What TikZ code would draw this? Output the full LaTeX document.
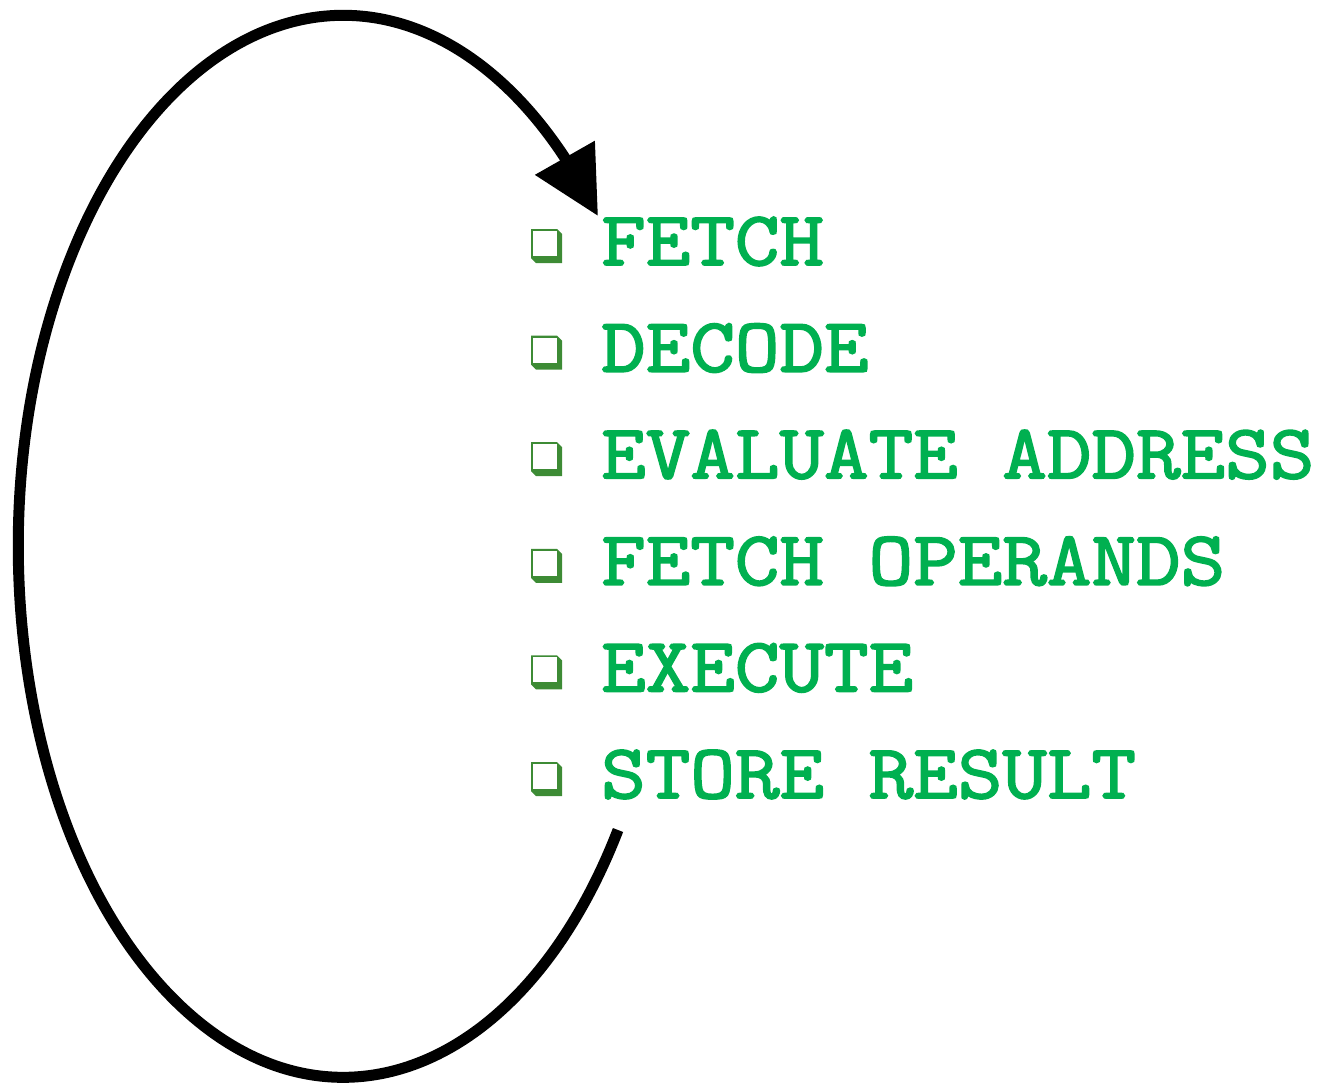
\documentclass[tikz,border=0pt]{standalone}
\usepackage{fontspec}
\usetikzlibrary{arrows.meta}
\newfontfamily\courfont[FakeBold=2.4,FakeStretch=1.124]{Latin Modern Mono}
\definecolor{itemgreen}{HTML}{00B050}
\definecolor{bulletgreen}{HTML}{3D8B35}
\tikzset{
  item/.style={anchor=base west, inner sep=0pt, text=itemgreen, font=\courfont\fontsize{77}{77}\selectfont},
  loopline/.style={line width=11pt, draw=black},
}
\begin{document}
\begin{tikzpicture}[x=1pt,y=-1pt]
\useasboundingbox (0,0) rectangle (1317,1085);
% items
\foreach \i/\txt in {1/FETCH,2/DECODE,3/EVALUATE ADDRESS,4/FETCH OPERANDS,5/EXECUTE,6/STORE RESULT}{
  \pgfmathsetmacro{\yb}{265+(\i-1)*106.6}
  \node[item] (item\i) at (601,\yb) {\txt};
  % bullet
  \fill[bulletgreen] (531,\yb-36) -- (557,\yb-36) -- (562,\yb-31) -- (562,\yb-2) -- (536,\yb-2) -- (531,\yb-7) -- cycle;
  \fill[white] (533,\yb-34) rectangle (557,\yb-9);
}
% loop connector
\coordinate (loopstart) at (618,830);
\coordinate (looptip) at (598,216);
\draw[loopline, -{Triangle[length=67pt,width=66pt]}]
  (loopstart) arc[start angle=32.3, end angle=313, x radius=325, y radius=531] -- (looptip);
\end{tikzpicture}
\end{document}
